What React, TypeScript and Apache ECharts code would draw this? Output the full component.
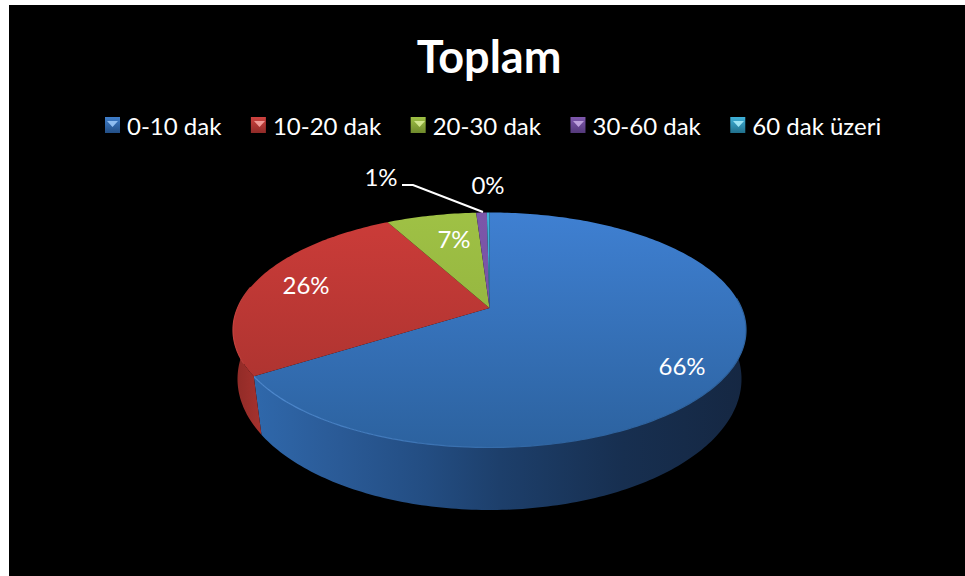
import React, { useEffect, useRef } from "react";
import * as echarts from "echarts";

const FONT = "Lato, 'Open Sans', sans-serif";

// Chart content
const titleText = "Toplam";
const categories = ["0-10 dak", "10-20 dak", "20-30 dak", "30-60 dak", "60 dak üzeri"];
const shares = [65.9, 26.3, 6.8, 0.8, 0.2];

// Slice colours: top-face gradient (far edge to near edge), wall gradient stops, rim
const faceColors = [
  ["#3f80d2", "#2c629f"],
  ["#cc3c39", "#a3312d"],
  ["#9fc145", "#8aa93a"],
  ["#7c56a9", "#74509f"],
  ["#3fb2da", "#38a0c6"],
];
const swatchColors = [
  ["#3f7ecb", "#234f86"],
  ["#cf4340", "#8f2b28"],
  ["#9fc145", "#6f8a2c"],
  ["#7f58ae", "#54397a"],
  ["#3fb2da", "#21708c"],
];
const swatchGlints = ["#8fbdf0", "#f09a96", "#d2e68c", "#bda0dc", "#9be4f5"];
const wallStops: [number, string][][] = [
  [[0, "#2f68ab"], [0.15, "#2b5c99"], [0.35, "#234d82"], [0.5, "#1d3f6b"], [0.75, "#172f50"], [1, "#152742"]],
  [[0, "#a6322e"], [1, "#8e2a26"]],
];
const rimColors = [
  ["#4f8ad0", "#2e639f"],
  ["#c4423e", "#a8332f"],
];

// Pie geometry: rim and base ellipses seen in perspective
const upper = { cx: 489.5, cy: 330, rx: 256.5, ry: 117.5, tilt: 0.187 };
const lower = { cx: 489.5, cy: 379, rx: 252, ry: 131, tilt: 0.15 };
const apex = project(upper, 0, 0);
const wallFrom = 79;
const wallTo = 281;

// Label and legend-marker placement
const labelSpots = [
  [682, 365],
  [306, 284],
  [454, 238],
  [381, 176],
  [488, 184],
];
const leaderPoints = [
  [402, 185],
  [413, 185],
  [483, 212],
];
const swatchLefts = [105, 252, 412, 571, 731];

// Disc coordinates to screen, keeping straight lines straight under the perspective
function project(e: typeof upper, u: number, v: number): number[] {
  const w = 1 - e.tilt * v;
  const X = (u * Math.sqrt(1 - e.tilt * e.tilt)) / w;
  const Y = (v - e.tilt) / w;
  return [e.cx + e.rx * X, e.cy + e.ry * Y];
}

function rimPoint(e: typeof upper, deg: number): number[] {
  const t = (deg * Math.PI) / 180;
  return project(e, Math.sin(t), -Math.cos(t));
}

function arc(e: typeof upper, from: number, to: number): number[][] {
  const pts: number[][] = [];
  const n = Math.max(2, Math.ceil(Math.abs(to - from)));
  for (let i = 0; i <= n; i++) pts.push(rimPoint(e, from + ((to - from) * i) / n));
  return pts;
}

function sliceRange(index: number): number[] {
  const total = shares.reduce((a, b) => a + b, 0);
  const before = shares.slice(0, index).reduce((a, b) => a + b, 0);
  return [(before / total) * 360, ((before + shares[index]) / total) * 360];
}

const vertical = (y0: number, y1: number, c: string[]) =>
  new echarts.graphic.LinearGradient(0, y0, 0, y1, [
    { offset: 0, color: c[0] },
    { offset: 1, color: c[1] },
  ], true);

function renderSlice(index: number) {
  const [from, to] = sliceRange(index);
  const children: any[] = [];
  const start = Math.max(from, wallFrom);
  const end = Math.min(to, wallTo);

  if (end > start && wallStops[index]) {
    // Side wall between the rim and the base
    const top = arc(upper, start, end);
    const base = arc(lower, start, end).reverse();
    const xs = top.concat(base).map((p) => p[0]);
    const left = Math.min(...xs);
    const right = Math.max(...xs);
    children.push({
      type: "polygon",
      shape: { points: top.concat(base) },
      style: {
        fill: new echarts.graphic.LinearGradient(
          index === 0 ? left : right, 0, index === 0 ? right : left, 0,
          wallStops[index].map(([offset, color]) => ({ offset, color })),
          true,
        ),
      },
    });
  }

  // Top face
  children.push({
    type: "polygon",
    shape: { points: [apex].concat(arc(upper, from, to)) },
    style: { fill: vertical(212, 447, faceColors[index]) },
  });

  if (end > start && rimColors[index]) {
    // Thin highlight along the front edge, fading towards the right
    const edge = arc(upper, start + 6, end);
    children.push({
      type: "polyline",
      shape: { points: edge },
      style: {
        fill: "none",
        lineWidth: 1.2,
        stroke: new echarts.graphic.LinearGradient(
          index === 0 ? 255 : 233, 0, index === 0 ? 560 : 260, 0,
          [
            { offset: 0, color: rimColors[index][0] },
            { offset: 1, color: rimColors[index][1] },
          ],
          true,
        ),
      },
    });
  }

  children.push({
    type: "text",
    x: labelSpots[index][0],
    y: labelSpots[index][1],
    z2: 10,
    style: {
      text: `${Math.round(shares[index])}%`,
      fill: "#ffffff",
      fontFamily: FONT,
      fontSize: 24,
      align: "center",
      verticalAlign: "middle",
    },
  });

  return { type: "group", children };
}

export default function App() {
  const ref = useRef<HTMLDivElement>(null);

  useEffect(() => {
    document.body.style.margin = "0";
    document.body.style.overflow = "hidden";
    const chart = echarts.init(ref.current!, null, { renderer: "svg" });
    chart.setOption({
      animation: false,
      backgroundColor: "#ffffff",
      title: {
        text: titleText,
        left: 484,
        top: 28,
        textAlign: "center",
        textStyle: { color: "#ffffff", fontFamily: FONT, fontWeight: "bold", fontSize: 45 },
      },
      legend: {
        left: 100,
        top: 108,
        icon: "rect",
        itemWidth: 15,
        itemHeight: 16,
        itemGap: 29.5,
        textStyle: { color: "#ffffff", fontFamily: FONT, fontSize: 24, padding: [0, 0, 0, 2] },
        data: categories.map((name, i) => ({
          name,
          itemStyle: {
            color: {
              type: "linear",
              x: 0,
              y: 0,
              x2: 0,
              y2: 1,
              colorStops: [
                { offset: 0, color: swatchColors[i][0] },
                { offset: 1, color: swatchColors[i][1] },
              ],
            },
          },
        })),
      },
      graphic: [
        {
          type: "rect",
          z: -1,
          silent: true,
          shape: { x: 9, y: 5, width: 956, height: 571 },
          style: { fill: "#000000" },
        },
        // Bevel glint on each legend marker
        ...swatchLefts.map((x, i) => ({
          type: "polygon",
          z: 10,
          silent: true,
          shape: { points: [[x + 2, 121], [x + 13, 121], [x + 7.5, 127]] },
          style: { fill: swatchGlints[i] },
        })),
      ],
      series: categories
        .map((name, i) => ({
          name,
          type: "custom",
          coordinateSystem: "none",
          data: [shares[i]],
          itemStyle: { color: faceColors[i][0] },
          renderItem: () => renderSlice(i),
        }))
        .concat([
          {
            // Leader line for the narrow slice
            name: "leader",
            type: "custom",
            coordinateSystem: "none",
            data: [0],
            itemStyle: { color: "#ffffff" },
            renderItem: () => ({
              type: "polyline",
              shape: { points: leaderPoints },
              style: { fill: "none", stroke: "#ffffff", lineWidth: 2 },
            }),
          } as any,
        ]),
    });
    return () => chart.dispose();
  }, []);

  return <div ref={ref} style={{ width: 965, height: 576 }} />;
}
